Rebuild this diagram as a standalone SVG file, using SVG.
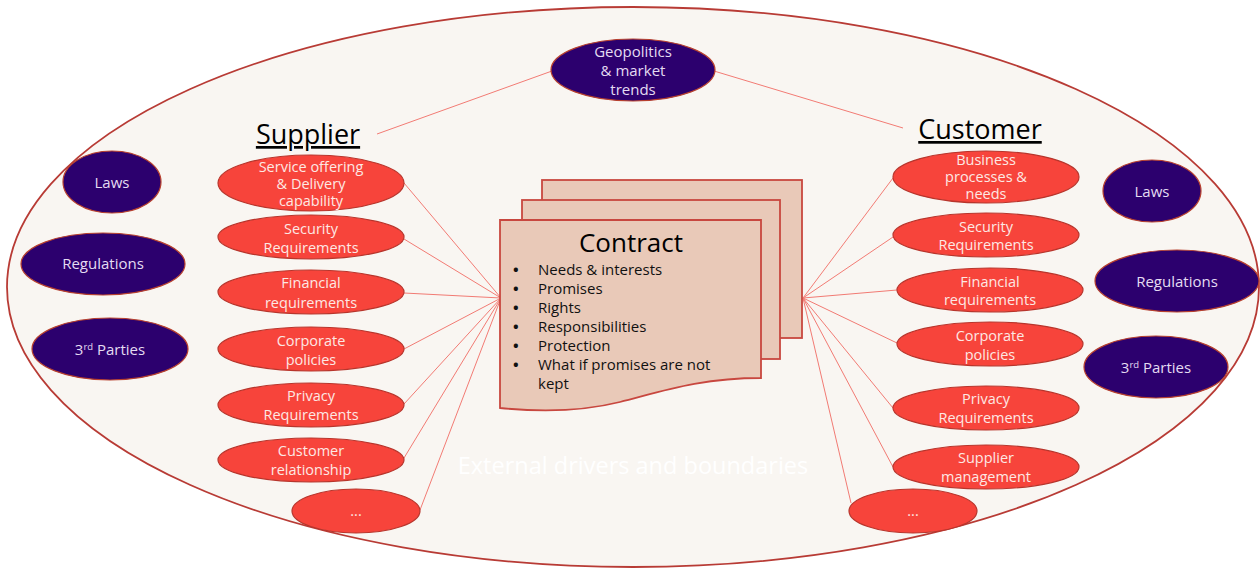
<svg xmlns="http://www.w3.org/2000/svg" width="1260" height="569" viewBox="0 0 1260 569">
<style>
.red{fill:#f7443b;stroke:#b8352c;stroke-width:1.2}
.dark{fill:#2c006e;stroke:#b8402e;stroke-width:1.2}
.page{fill:#e9c9b8;stroke:#c8473f;stroke-width:1.8}
.t{font-family:"Open Sans",Lato,"Liberation Sans",sans-serif;text-anchor:middle}
.rt{fill:#fde8e4;font-size:14.5px}
.dt{fill:#e4dcf2;font-size:15px}
.hd{fill:#000;font-size:27px;text-decoration:underline}
.b{font-family:"Open Sans",Lato,"Liberation Sans",sans-serif;fill:#111;font-size:15px}
.bu{font-weight:bold}
.conn line{stroke:#f27b74;stroke-width:1}
</style>
<rect width="1260" height="569" fill="#ffffff"/>
<g id="boundary">
<ellipse cx="633" cy="287" rx="626" ry="280" fill="#f9f6f2" stroke="#b83b35" stroke-width="1.8"/>
<text class="t" x="633" y="474" fill="#ffffff" font-size="23.5">External drivers and boundaries</text>
</g>
<g class="conn" id="connectors">
<line x1="377" y1="134" x2="552" y2="71"/>
<line x1="714" y1="71" x2="903" y2="128"/>
<line x1="404" y1="183" x2="501" y2="298"/>
<line x1="404" y1="239" x2="501" y2="298"/>
<line x1="404" y1="293" x2="501" y2="298"/>
<line x1="404" y1="349" x2="501" y2="298"/>
<line x1="404" y1="404" x2="501" y2="298"/>
<line x1="404" y1="458" x2="501" y2="298"/>
<line x1="420" y1="510" x2="501" y2="298"/>
<line x1="893" y1="178" x2="803" y2="298"/>
<line x1="893" y1="237" x2="803" y2="298"/>
<line x1="897" y1="290" x2="803" y2="298"/>
<line x1="897" y1="343" x2="803" y2="298"/>
<line x1="893" y1="408" x2="803" y2="298"/>
<line x1="893" y1="467" x2="803" y2="298"/>
<line x1="851" y1="503" x2="803" y2="298"/>
</g>
<g id="geopolitics">
<ellipse class="dark" cx="633" cy="70" rx="82" ry="31"/>
<text class="t dt" x="633" y="57">Geopolitics</text>
<text class="t dt" x="633" y="76">&amp; market</text>
<text class="t dt" x="633" y="95">trends</text>
</g>
<g id="supplier-title"><text class="t hd" x="308" y="144">Supplier</text></g>
<g id="customer-title"><text class="t hd" x="980" y="139">Customer</text></g>
<g id="laws-left"><ellipse class="dark" cx="112" cy="182" rx="49" ry="31"/><text class="t dt" x="112" y="188">Laws</text></g>
<g id="regulations-left"><ellipse class="dark" cx="103" cy="264" rx="82" ry="31"/><text class="t dt" x="103" y="269">Regulations</text></g>
<g id="parties-left"><ellipse class="dark" cx="110" cy="349" rx="78" ry="31"/><text class="t dt" x="110" y="355">3<tspan font-size="9.5" dy="-5">rd</tspan><tspan dy="5"> Parties</tspan></text></g>
<g id="laws-right"><ellipse class="dark" cx="1152" cy="191" rx="49" ry="31"/><text class="t dt" x="1152" y="197">Laws</text></g>
<g id="regulations-right"><ellipse class="dark" cx="1177" cy="281" rx="82" ry="31"/><text class="t dt" x="1177" y="287">Regulations</text></g>
<g id="parties-right"><ellipse class="dark" cx="1156" cy="367" rx="72" ry="31"/><text class="t dt" x="1156" y="373">3<tspan font-size="9.5" dy="-5">rd</tspan><tspan dy="5"> Parties</tspan></text></g>
<g id="s-service"><ellipse class="red" cx="311" cy="183" rx="93" ry="28"/>
<text class="t rt" x="311" y="172" font-size="13px">Service offering</text><text class="t rt" x="311" y="189" font-size="13px">&amp; Delivery</text><text class="t rt" x="311" y="206" font-size="13px">capability</text></g>
<g id="s-security"><ellipse class="red" cx="311" cy="237" rx="93" ry="22"/><text class="t rt" x="311" y="234">Security</text><text class="t rt" x="311" y="253">Requirements</text></g>
<g id="s-financial"><ellipse class="red" cx="311" cy="292" rx="93" ry="22"/><text class="t rt" x="311" y="288">Financial</text><text class="t rt" x="311" y="308">requirements</text></g>
<g id="s-corporate"><ellipse class="red" cx="311" cy="349" rx="93" ry="22"/><text class="t rt" x="311" y="346">Corporate</text><text class="t rt" x="311" y="365">policies</text></g>
<g id="s-privacy"><ellipse class="red" cx="311" cy="405" rx="93" ry="22"/><text class="t rt" x="311" y="401">Privacy</text><text class="t rt" x="311" y="420">Requirements</text></g>
<g id="s-customer"><ellipse class="red" cx="311" cy="460" rx="93" ry="22"/><text class="t rt" x="311" y="456">Customer</text><text class="t rt" x="311" y="475">relationship</text></g>
<g id="s-more"><ellipse class="red" cx="356" cy="511" rx="64" ry="22"/><text class="t rt" x="356" y="516" font-size="12px">...</text></g>
<g id="c-business"><ellipse class="red" cx="986" cy="177" rx="93" ry="26"/>
<text class="t rt" x="986" y="165" font-size="12.5px">Business</text><text class="t rt" x="986" y="182" font-size="12.5px">processes &amp;</text><text class="t rt" x="986" y="199" font-size="12.5px">needs</text></g>
<g id="c-security"><ellipse class="red" cx="986" cy="235" rx="93" ry="22"/><text class="t rt" x="986" y="232">Security</text><text class="t rt" x="986" y="250">Requirements</text></g>
<g id="c-financial"><ellipse class="red" cx="990" cy="290" rx="93" ry="22"/><text class="t rt" x="990" y="287">Financial</text><text class="t rt" x="990" y="305">requirements</text></g>
<g id="c-corporate"><ellipse class="red" cx="990" cy="344" rx="93" ry="22"/><text class="t rt" x="990" y="341">Corporate</text><text class="t rt" x="990" y="360">policies</text></g>
<g id="c-privacy"><ellipse class="red" cx="986" cy="408" rx="93" ry="22"/><text class="t rt" x="986" y="404">Privacy</text><text class="t rt" x="986" y="423">Requirements</text></g>
<g id="c-supplier"><ellipse class="red" cx="986" cy="467" rx="93" ry="22"/><text class="t rt" x="986" y="463">Supplier</text><text class="t rt" x="986" y="482">management</text></g>
<g id="c-more"><ellipse class="red" cx="913" cy="511" rx="64" ry="22"/><text class="t rt" x="913" y="516" font-size="12px">...</text></g>
<g id="contract">
<rect class="page" x="542" y="180" width="260" height="158"/>
<rect class="page" x="522" y="200" width="258" height="159"/>
<path class="page" d="M500,220 H761 V378 C700,378 660,392 620,402 C580,412 540,412 500,408 Z"/>
<text class="t" x="631" y="252" font-size="26" fill="#000">Contract</text>
<g class="b">
<text y="275"><tspan class="bu" x="513">•</tspan><tspan x="538">Needs &amp; interests</tspan></text>
<text y="294"><tspan class="bu" x="513">•</tspan><tspan x="538">Promises</tspan></text>
<text y="313"><tspan class="bu" x="513">•</tspan><tspan x="538">Rights</tspan></text>
<text y="332"><tspan class="bu" x="513">•</tspan><tspan x="538">Responsibilities</tspan></text>
<text y="351"><tspan class="bu" x="513">•</tspan><tspan x="538">Protection</tspan></text>
<text y="370"><tspan class="bu" x="513">•</tspan><tspan x="538">What if promises are not</tspan><tspan x="538" y="389">kept</tspan></text>
</g>
</g>
</svg>
